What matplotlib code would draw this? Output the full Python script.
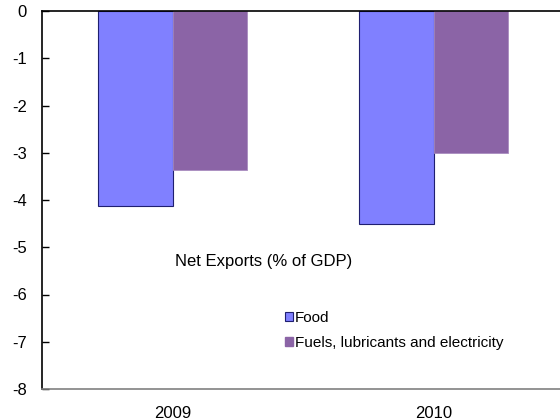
import matplotlib
matplotlib.use("Agg")
import matplotlib.pyplot as plt
import numpy as np
from matplotlib.patches import Patch

years = ["2009", "2010"]
food = [-4.13, -4.51]
fuels = [-3.37, -3.01]
series_names = ["Food", "Fuels, lubricants and electricity"]
yticks = [0, -1, -2, -3, -4, -5, -6, -7, -8]

plt.rcParams['font.family'] = ['Liberation Sans', 'DejaVu Sans']

fig = plt.figure(figsize=(5.6, 4.2), dpi=100)
ax = fig.add_axes([42/560, 1-389/420, 522/560, 378/420])

x = np.arange(len(years))
w = 0.287
c_food = "#8080FF"
c_fuel = "#8B64A6"
ax.bar(x - w/2, food, w, color=c_food, edgecolor="#1f1f70", linewidth=0.8)
ax.bar(x + w/2, fuels, w, color=c_fuel, edgecolor="#a98cc0", linewidth=0.6)

ax.set_xlim(-0.5, 1.5)
ax.set_ylim(-8, 0)
ax.set_yticks(yticks)
ax.set_yticklabels([str(v) for v in yticks], fontsize=12)
ax.set_xticks(x)
ax.set_xticklabels(years, fontsize=12)
ax.tick_params(axis='x', length=0, pad=12)
ax.tick_params(axis='y', direction='in', length=5, width=1, pad=11)

ax.spines['right'].set_visible(False)
ax.spines['top'].set_color('black')
ax.spines['top'].set_linewidth(1.2)
ax.spines['left'].set_color('black')
ax.spines['left'].set_linewidth(1.2)
ax.spines['bottom'].set_color('#808080')
ax.spines['bottom'].set_linewidth(1.2)

ax.text(0.01, -5.31, "Net Exports (% of GDP)", fontsize=12, va='center', ha='left')

handles = [Patch(facecolor=c_food, edgecolor="#1f1f70", linewidth=0.8),
           Patch(facecolor=c_fuel, edgecolor=c_fuel)]
leg = ax.legend(handles, series_names, loc='center left',
                bbox_to_anchor=(0.45, 0.155), frameon=False, fontsize=11,
                handlelength=0.55, handleheight=0.55, handletextpad=0.15,
                labelspacing=0.7, borderpad=0)

fig.savefig("out.png", dpi=100)
